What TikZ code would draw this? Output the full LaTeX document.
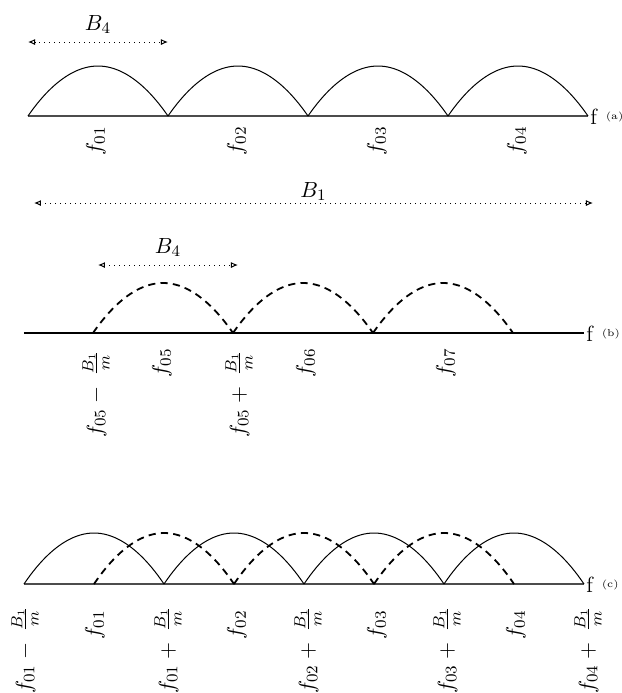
\documentclass[tikz,border=0pt]{standalone}
\usepackage{amsmath}
\usetikzlibrary{positioning,arrows.meta}

\begin{document}
\begin{tikzpicture}[
  x=0.5pt, y=-0.5pt,
  font=\fontsize{11}{13}\selectfont,
  axis/.style={line width=1pt, black!70},
  band/.style={line width=0.5pt},
  shifted/.style={line width=0.9pt, dash pattern=on 3.6pt off 2.6pt},
  span/.style={dotted, line width=0.5pt, {Latex[open,length=3.5pt,width=3pt]}-{Latex[open,length=3.5pt,width=3pt]}},
  freq/.style={rotate=90, anchor=east, inner sep=1pt},
  axlabel/.style={anchor=west, inner sep=1pt},
  tag/.style={font=\tiny, inner sep=0.5pt}
]
\useasboundingbox (0,0) rectangle (622,693);

% (a) four sub-bands
\coordinate (a0) at (28,116);
\node[axlabel] (axis-a) at (588,117) {f};
\node[tag, right=2.5pt of axis-a] (tag-a) {(a)};
\draw[axis] (a0) -- (a0 -| axis-a.west);
\foreach \x in {28,168,308,448}
  \draw[band] (\x,116) parabola bend (\x+70,66) (\x+140,116);
\foreach \x/\i in {96/1,237/2,377/3,517/4}
  \node[freq] (fa-\i) at (\x,124) {$f_{0\i}$};
\coordinate (b4a-l) at (28,42);
\coordinate (b4a-r) at (168,42);
\draw[span] (b4a-l) -- node[above=3pt, inner sep=1pt] (b4a) {$B_4$} (b4a-r);

% (b) shifted sub-bands
\coordinate (b1-l) at (34,203);
\coordinate (b1-r) at (593,203);
\draw[span] (b1-l) -- node[above=0pt, inner sep=1pt] (b1) {$B_1$} (b1-r);
\coordinate (b4b-l) at (98,265);
\coordinate (b4b-r) at (238,265);
\draw[span] (b4b-l) -- node[above=3pt, inner sep=1pt] (b4b) {$B_4$} (b4b-r);
\coordinate (b0) at (24,333);
\node[axlabel] (axis-b) at (584,334) {f};
\node[tag, right=2.5pt of axis-b] (tag-b) {(b)};
\draw[axis, black, line width=0.7pt] (b0) -- (b0 -| axis-b.west);
\foreach \x in {93,233,373}
  \draw[shifted] (\x,333) parabola bend (\x+70,283) (\x+140,333);
\node[freq] (fb-1) at (96,348) {$f_{05}-\;\frac{B_1}{m}$};
\node[freq] (fb-2) at (162,346) {$f_{05}$};
\node[freq] (fb-3) at (239,348) {$f_{05}+\;\frac{B_1}{m}$};
\node[freq] (fb-4) at (306,346) {$f_{06}$};
\node[freq] (fb-5) at (446,346) {$f_{07}$};

% (c) both sets together
\coordinate (c0) at (24,584);
\node[axlabel] (axis-c) at (584,585) {f};
\node[tag, right=2.5pt of axis-c] (tag-c) {(c)};
\draw[axis] (c0) -- (c0 -| axis-c.west);
\foreach \x in {24,164,304,444}
  \draw[band] (\x,584) parabola bend (\x+70,533) (\x+140,584);
\foreach \x in {94,234,374}
  \draw[shifted] (\x,584) parabola bend (\x+70,533) (\x+140,584);
\node[freq] (fc-m1) at (25,604) {$f_{01}-\;\frac{B_1}{m}$};
\foreach \x/\i in {168/1,308/2,447/3,588/4}
  \node[freq] (fc-p\i) at (\x,604) {$f_{0\i}+\;\frac{B_1}{m}$};
\foreach \x/\i in {95/1,237/2,377/3,516/4}
  \node[freq] (fc-\i) at (\x,608) {$f_{0\i}$};
\end{tikzpicture}
\end{document}
